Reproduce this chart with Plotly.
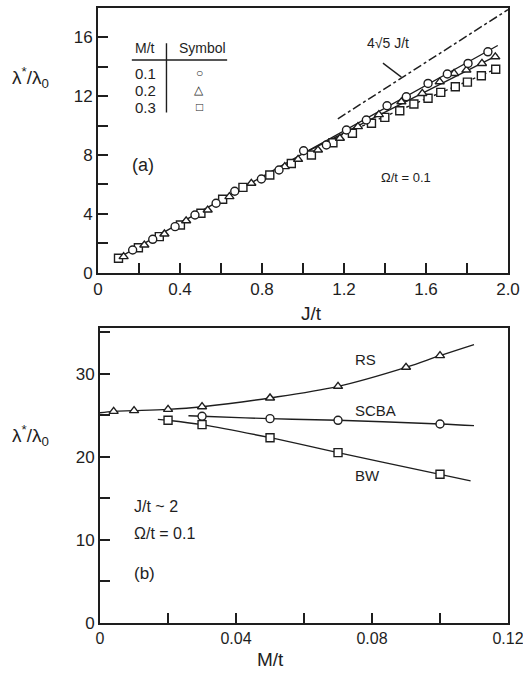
import math
import plotly.graph_objects as go

# ---------------- Panel (a) data ----------------
circ_x = [0.169, 0.267, 0.376, 0.473, 0.576, 0.667, 0.797, 0.883, 1.003, 1.114, 1.212, 1.309, 1.41, 1.504, 1.61, 1.704, 1.805, 1.902]
circ_y = [1.54, 2.27, 3.13, 3.92, 4.72, 5.54, 6.37, 6.98, 8.29, 8.68, 9.70, 10.38, 11.35, 11.96, 12.87, 13.51, 14.23, 15.02]
tri_x = [0.125, 0.226, 0.324, 0.43, 0.535, 0.641, 0.748, 0.911, 0.976, 1.073, 1.18, 1.268, 1.37, 1.48, 1.582, 1.667, 1.737, 1.797, 1.873, 1.938]
tri_y = [1.09, 1.88, 2.63, 3.53, 4.26, 5.17, 6.08, 7.21, 7.71, 8.34, 9.14, 9.93, 10.75, 11.62, 12.19, 12.98, 13.55, 13.78, 14.23, 14.68]
sq_x = [0.10, 0.197, 0.299, 0.402, 0.502, 0.608, 0.707, 0.838, 0.943, 1.041, 1.146, 1.241, 1.334, 1.399, 1.472, 1.541, 1.61, 1.672, 1.743, 1.802, 1.870, 1.94]
sq_y = [0.98, 1.70, 2.45, 3.24, 4.04, 4.99, 5.80, 6.64, 7.43, 8.0, 8.84, 9.48, 10.16, 10.56, 11.01, 11.47, 11.86, 12.26, 12.64, 12.96, 13.39, 13.83]

fit_circ_x = [0.08, 1.0, 1.95]
fit_circ_y = [0.85, 8.1, 15.45]
fit_tri_x = [1.0, 1.95]
fit_tri_y = [8.1, 14.8]
fit_sq_x = [1.1, 1.95]
fit_sq_y = [8.85, 13.9]
asym_x = [1.17, 2.0]
asym_y = [4 * math.sqrt(5) * v for v in asym_x]

# ---------------- Panel (b) data ----------------
rs_x = [0.004, 0.01, 0.02, 0.03, 0.05, 0.07, 0.09, 0.10]
rs_y = [25.47, 25.55, 25.71, 26.03, 27.08, 28.48, 30.77, 32.17]
rs_line_x = [0.0] + rs_x + [0.11]
rs_line_y = [25.3] + rs_y + [33.5]
scba_x = [0.03, 0.05, 0.07, 0.10]
scba_y = [24.87, 24.59, 24.39, 23.95]
scba_line_x = [0.026] + scba_x + [0.11]
scba_line_y = [24.93] + scba_y + [23.75]
bw_x = [0.02, 0.03, 0.05, 0.07, 0.10]
bw_y = [24.39, 23.87, 22.30, 20.50, 17.89]
bw_line_x = [0.017] + bw_x + [0.109]
bw_line_y = [24.5] + bw_y + [17.1]

INK = "#1e1e1e"
FONT = "Liberation Sans"

fig = go.Figure()

def mk(x, y, sym, xa="x", ya="y", size=8):
    fig.add_trace(go.Scatter(x=x, y=y, mode="markers", xaxis=xa, yaxis=ya,
                             marker=dict(symbol=sym, size=size, color="white",
                                         line=dict(color=INK, width=1.4)),
                             showlegend=False, hoverinfo="skip"))

def ln(x, y, dash="solid", xa="x", ya="y", shape="linear", w=1.4):
    fig.add_trace(go.Scatter(x=x, y=y, mode="lines", xaxis=xa, yaxis=ya,
                             line=dict(color=INK, width=w, dash=dash, shape=shape),
                             showlegend=False, hoverinfo="skip"))

# panel (a)
ln(fit_circ_x, fit_circ_y, shape="spline")
ln(fit_tri_x, fit_tri_y)
ln(fit_sq_x, fit_sq_y, dash="dot")
ln(asym_x, asym_y, dash="dashdot", w=1.5)
mk(sq_x, sq_y, "square")
mk(tri_x, tri_y, "triangle-up")
mk(circ_x, circ_y, "circle")

# panel (b)
ln(rs_line_x, rs_line_y, xa="x2", ya="y2", shape="spline")
ln(scba_line_x, scba_line_y, xa="x2", ya="y2", shape="spline")
ln(bw_line_x, bw_line_y, xa="x2", ya="y2", shape="spline")
mk(rs_x, rs_y, "triangle-up", "x2", "y2")
mk(scba_x, scba_y, "circle", "x2", "y2")
mk(bw_x, bw_y, "square", "x2", "y2")

def axis_common(size):
    return dict(showline=True, mirror=True, linecolor=INK, linewidth=2,
                ticks="inside", ticklen=10, tickwidth=1.6, tickcolor=INK,
                showgrid=False, zeroline=False, automargin=False,
                ticklabeloverflow="allow",
                tickfont=dict(family=FONT, size=size, color=INK))
minor_common = dict(ticks="inside", ticklen=10, tickwidth=1.6, tickcolor=INK, showgrid=False)

fig.update_layout(
    width=523, height=674,
    margin=dict(l=98, r=15, t=8, b=51),
    paper_bgcolor="white", plot_bgcolor="white",
    font=dict(family=FONT, color=INK),
    xaxis=dict(domain=[0, 1], range=[0, 2.0], anchor="y",
               tickvals=[0, 0.4, 0.8, 1.2, 1.6, 2.0], ticktext=["0", "0.4", "0.8", "1.2", "1.6", "2.0"],
               minor=dict(dtick=0.2, **minor_common), **axis_common(17)),
    yaxis=dict(domain=[0.5696, 1.0], range=[0, 18], anchor="x",
               tickvals=[0, 4, 8, 12, 16],
               minor=dict(dtick=2, **minor_common), **axis_common(17)),
    xaxis2=dict(domain=[0.005, 1], range=[0, 0.12], anchor="y2",
                tickvals=[0, 0.04, 0.08, 0.12], ticktext=["0", "0.04", "0.08", "0.12"],
                minor=dict(dtick=0.02, **minor_common), **axis_common(16)),
    yaxis2=dict(domain=[0, 0.4797], range=[0, 35.5], anchor="x2",
                tickvals=[0, 10, 20, 30],
                minor=dict(dtick=5, **minor_common), **axis_common(17)),
)

ann = []
def A(text, x, y, xref="x", yref="y", size=14, xanchor="left", yanchor="middle"):
    ann.append(dict(text=text, x=x, y=y, xref=xref, yref=yref, showarrow=False,
                    xanchor=xanchor, yanchor=yanchor,
                    font=dict(family=FONT, size=size, color=INK)))

# axis titles
A("λ<sup>*</sup>/λ<sub>0</sub>", -0.215, 13.3, xref="paper", size=19)
A("λ<sup>*</sup>/λ<sub>0</sub>", -0.215, 22.6, xref="paper", yref="y2", size=19)
A("J/t", 1.04, 0.504, xref="x", yref="paper", size=19, xanchor="center")
A("M/t", 0.05, -0.060, xref="x2", yref="paper", size=19, xanchor="center")

# panel (a) texts
A("(a)", 0.155, 7.32, size=18)
A("Ω/t = 0.1", 1.5, 6.5, size=13, xanchor="center")
A("4√5 J/t", 1.413, 15.6, size=14, xanchor="center")
A("M/t", 0.17, 15.28, size=14)
A("Symbol", 0.51, 15.28, size=14, xanchor="center")
for lab, yy, g in [("0.1", 13.58, "○"), ("0.2", 12.42, "△"), ("0.3", 11.26, "□")]:
    A(lab, 0.17, yy, size=15)
    A(g, 0.493, yy, size=12, xanchor="center")

# panel (b) texts
A("RS", 0.0745, 31.7, "x2", "y2", size=15)
A("SCBA", 0.0745, 25.6, "x2", "y2", size=15)
A("BW", 0.0745, 17.8, "x2", "y2", size=15)
A("J/t ~ 2", 0.0093, 14.0, "x2", "y2", size=16)
A("Ω/t = 0.1", 0.0093, 10.75, "x2", "y2", size=16)
A("(b)", 0.0093, 5.94, "x2", "y2", size=17)

fig.update_layout(annotations=ann)

shapes = [
    dict(type="line", xref="x", yref="y", x0=0.165, x1=0.63, y0=14.46, y1=14.46,
         line=dict(color=INK, width=1.6)),
    dict(type="line", xref="x", yref="y", x0=0.334, x1=0.334, y0=10.9, y1=15.6,
         line=dict(color=INK, width=1.4)),
    dict(type="line", xref="x", yref="y", x0=1.39, x1=1.48, y0=14.25, y1=13.3,
         line=dict(color=INK, width=1.3)),
]
fig.update_layout(shapes=shapes)

fig.write_html("out.html", config={"displayModeBar": False},
               post_script="document.body.style.margin='0px';document.body.style.overflow='hidden';")
